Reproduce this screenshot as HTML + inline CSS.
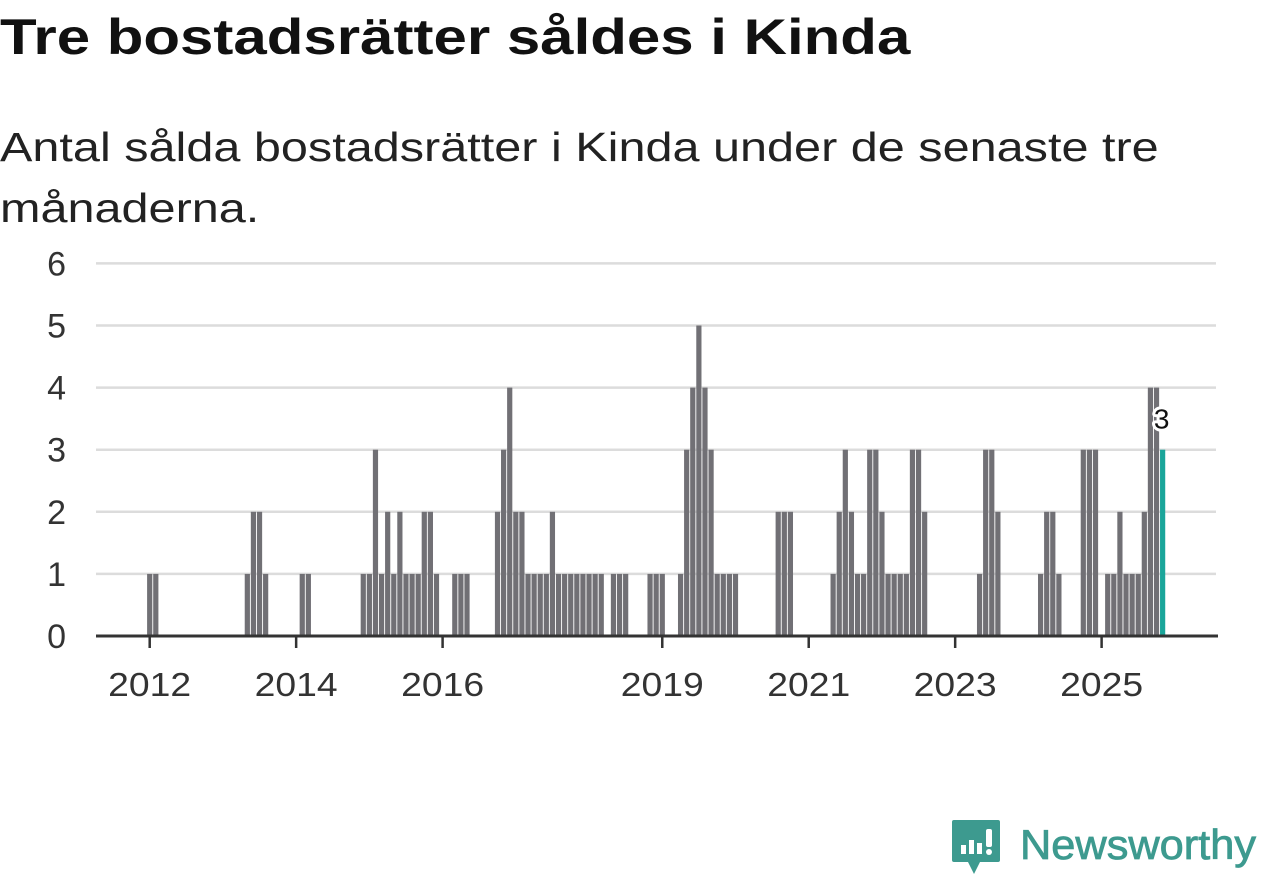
<!DOCTYPE html>
<html><head><meta charset="utf-8">
<style>
html,body{margin:0;padding:0;background:#fff;width:1262px;height:879px;overflow:hidden;font-family:"Liberation Sans",sans-serif;}
#title{position:absolute;left:0;top:8px;font-size:50px;font-weight:bold;color:#111;white-space:nowrap;transform-origin:0 0;transform:scaleX(1.2)}
#subtitle{position:absolute;left:0;top:117px;font-size:41px;line-height:61px;color:#222;white-space:nowrap;transform-origin:0 0;transform:scaleX(1.185)}
#chart{position:absolute;left:0;top:0}
#logo{position:absolute;left:952px;top:820px}
</style></head><body>
<div id="title">Tre bostadsrätter såldes i Kinda</div>
<div id="subtitle">Antal sålda bostadsrätter i Kinda under de senaste tre<br>månaderna.</div>
<svg id="chart" width="1262" height="879"></svg>
<svg id="logo" width="310" height="60">
<path d="M2,0 H46 Q48,0 48,2 V40 Q48,42 46,42 H28 L22,54 L16,42 H2 Q0,42 0,40 V2 Q0,0 2,0Z" fill="#3d9a8f"/>
<rect x="9" y="25" width="5" height="9" fill="#fff"/><rect x="17" y="20" width="5" height="14" fill="#fff"/><rect x="25" y="23" width="5" height="11" fill="#fff"/><rect x="34" y="9" width="6" height="18" rx="2" fill="#fff"/><circle cx="37" cy="32" r="3" fill="#fff"/>
<text x="68" y="39" font-family="Liberation Sans, sans-serif" font-size="42" fill="#3d9a8f" stroke="#3d9a8f" stroke-width="0.8" textLength="236" lengthAdjust="spacingAndGlyphs">Newsworthy</text>
</svg>
<script>
// monthly sales counts, index 0 = Jan 2011
const startYear = 2011;
const counts = [
0,0,0,0,0,0,0,0,0,0,0,0,
1,1,0,0,0,0,0,0,0,0,0,0,
0,0,0,0,1,2,2,1,0,0,0,0,
0,1,1,0,0,0,0,0,0,0,0,1,
1,3,1,2,1,2,1,1,1,2,2,1,
0,0,1,1,1,0,0,0,0,2,3,4,
2,2,1,1,1,1,2,1,1,1,1,1,
1,1,1,0,1,1,1,0,0,0,1,1,
1,0,0,1,3,4,5,4,3,1,1,1,
1,0,0,0,0,0,0,2,2,2,0,0,
0,0,0,0,1,2,3,2,1,1,3,3,
2,1,1,1,1,3,3,2,0,0,0,0,
0,0,0,0,1,3,3,2,0,0,0,0,
0,0,1,2,2,1,0,0,0,3,3,3,
0,1,1,2,1,1,1,2,4,4,3
];
const yTicks = [0,1,2,3,4,5,6];
const xTickYears = [2012,2014,2016,2019,2021,2023,2025];
const highlightLabel = "3";

const svg = document.getElementById('chart');
const NS = 'http://www.w3.org/2000/svg';
const x0 = 96, x1 = 1218, yBase = 636, unit = 62.1;
const firstCenter = 149.7, pitch = 6.102;
function xScale(m){ return firstCenter + (m - 12) * pitch; }
function yScale(v){ return yBase - v * unit; }
function mk(tag, attrs){ const e = document.createElementNS(NS, tag); for (const k in attrs) e.setAttribute(k, attrs[k]); svg.appendChild(e); return e; }

yTicks.forEach(t => {
  if (t > 0) {
    const g = mk('line', {x1:x0, x2:1216, y1:yScale(t), y2:yScale(t), stroke:'#dcdcdc', 'stroke-width':2.5});
    
    
  }
  const l = mk('text', {x:66, y:yScale(t)+12, 'text-anchor':'end', 'font-size':34, fill:'#333', 'font-family':'Liberation Sans, sans-serif'});
  l.textContent = t;
  
  
});

counts.forEach((v, m) => {
  if (v <= 0) return;
  const last = m === counts.length - 1;
  const r = mk('rect', {x:xScale(m)-2.6, y:yScale(v), width:5.2, height:v*unit, fill: last ? '#1aa59a' : '#717075'});
  
  
});

const axis = mk('line', {x1:x0, x2:x1, y1:yBase, y2:yBase, stroke:'#333', 'stroke-width':3});



xTickYears.forEach(yr => {
  const xx = xScale((yr - startYear) * 12);
  const tk = mk('line', {x1:xx, x2:xx, y1:yBase, y2:yBase+12, stroke:'#333', 'stroke-width':2.5});
  
  
  const lb = mk('text', {x:xx, y:yBase+60, 'text-anchor':'middle', 'font-size':33, fill:'#333', 'font-family':'Liberation Sans, sans-serif', textLength:83, lengthAdjust:'spacingAndGlyphs'});
  lb.textContent = yr;
  
  
});

const lm = counts.length - 1;
const vl = mk('text', {x:xScale(lm)-1, y:yScale(counts[lm])-21, 'text-anchor':'middle', 'font-size':28, fill:'#111', stroke:'#fff', 'stroke-width':6, 'paint-order':'stroke', 'stroke-linejoin':'round', 'font-family':'Liberation Sans, sans-serif'});
vl.textContent = highlightLabel;


</script>
</body></html>
